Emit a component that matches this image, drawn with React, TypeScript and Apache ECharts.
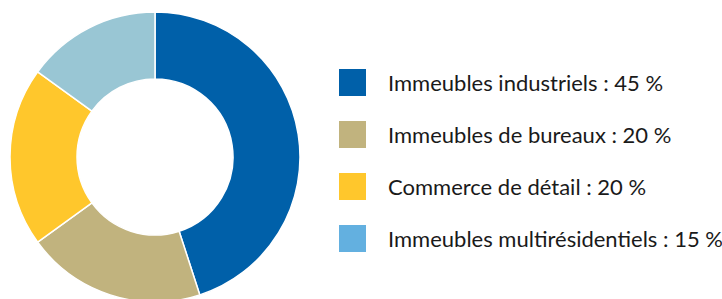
import React, { useEffect, useRef } from "react";
import * as echarts from "echarts";

const categories = [
  "Immeubles industriels",
  "Immeubles de bureaux",
  "Commerce de détail",
  "Immeubles multirésidentiels",
];
const values = [45, 20, 20, 15];
const sliceColors = ["#0060A9", "#C1B37E", "#FFC72C", "#99C6D4"];
const legendColors = ["#0060A9", "#C1B37E", "#FFC72C", "#63B0E0"];

export default function App() {
  const ref = useRef<HTMLDivElement>(null);
  useEffect(() => {
    if (!ref.current) return;
    const chart = echarts.init(ref.current, undefined, { renderer: "svg" });
    chart.setOption({
      animation: false,
      legend: {
        orient: "vertical",
        left: 332,
        top: 62,
        itemWidth: 29,
        itemHeight: 29,
        itemGap: 21,
        icon: "rect",
        selectedMode: false,
        textStyle: {
          fontFamily: "Lato",
          fontSize: 22,
          color: "#1a1a1a",
          padding: [0, 0, 0, 16],
        },
        formatter: (name: string) => {
          const i = categories.indexOf(name);
          return `${name} : ${values[i]} %`;
        },
        data: categories.map((c, i) => ({
          name: c,
          itemStyle: { color: legendColors[i] },
        })),
      },
      series: [
        {
          type: "pie",
          center: [155, 157],
          radius: [78, 145],
          startAngle: 90,
          clockwise: true,
          label: { show: false },
          labelLine: { show: false },
          emphasis: { disabled: true },
          itemStyle: { borderColor: "#ffffff", borderWidth: 1.5 },
          data: categories.map((c, i) => ({
            name: c,
            value: values[i],
            itemStyle: { color: sliceColors[i] },
          })),
        },
      ],
    });
    return () => chart.dispose();
  }, []);
  return <div ref={ref} style={{ width: 722, height: 299, position: "absolute", left: 0, top: 0 }} />;
}
